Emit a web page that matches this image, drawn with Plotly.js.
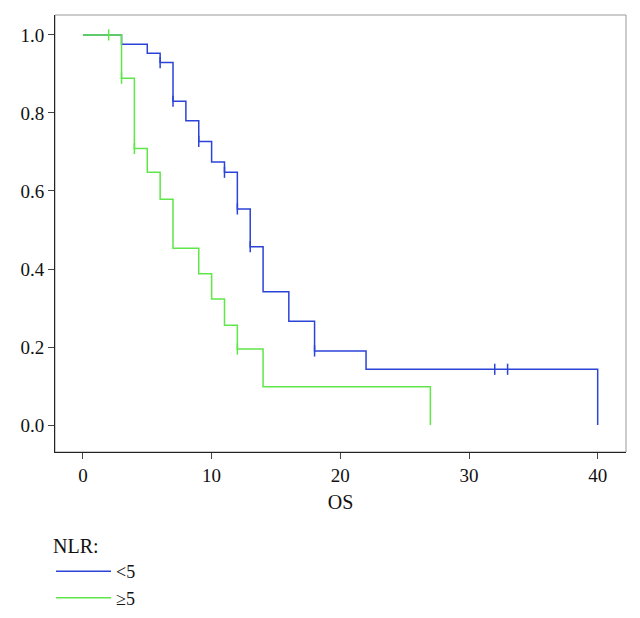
<!DOCTYPE html>
<html>
<head>
<meta charset="utf-8">
<script src="https://cdn.plot.ly/plotly-3.0.1.min.js"></script>
<style>html,body{margin:0;padding:0;background:#fff;}#chart{width:640px;height:618px;}</style>
</head>
<body>
<div id="chart"></div>
<script>
// Kaplan-Meier step data (time in OS units, survival probability)
const lowTime = [0, 3, 5, 6, 7, 8, 9, 10, 11, 12, 13, 14, 16, 18, 22, 40];
const lowSurv = [1.0, 0.976, 0.953, 0.929, 0.83, 0.78, 0.727, 0.674, 0.648, 0.554, 0.457, 0.342, 0.266, 0.19, 0.143, 0.0];
const lowCensorTime = [6, 7, 9, 11, 12, 13, 18, 32, 33];
const lowCensorSurv = [0.929, 0.83, 0.727, 0.648, 0.554, 0.457, 0.19, 0.143, 0.143];

const highTime = [0, 3, 4, 5, 6, 7, 9, 10, 11, 12, 14, 27];
const highSurv = [1.0, 0.889, 0.709, 0.648, 0.579, 0.453, 0.388, 0.323, 0.256, 0.195, 0.098, 0.0];
const highCensorTime = [2, 3, 4, 12];
const highCensorSurv = [1.0, 0.889, 0.709, 0.195];

const groupNames = ["<5", "\u22655"];
const xTicks = [0, 10, 20, 30, 40];
const yTicks = [0, 0.2, 0.4, 0.6, 0.8, 1.0];

const blue = "#2c43d8";
const green = "#5fe648";
const serif = "Liberation Serif, Times New Roman, serif";

const traces = [
  {x: lowTime, y: lowSurv, mode: "lines", line: {shape: "hv", color: blue, width: 1.5}, name: groupNames[0]},
  {x: highTime, y: highSurv, mode: "lines", line: {shape: "hv", color: green, width: 1.5}, name: groupNames[1]},
  {x: lowCensorTime, y: lowCensorSurv, mode: "markers", showlegend: false, hoverinfo: "skip",
   marker: {symbol: "line-ns", size: 8, line: {color: blue, width: 1.5}}},
  {x: highCensorTime, y: highCensorSurv, mode: "markers", showlegend: false, hoverinfo: "skip",
   marker: {symbol: "line-ns", size: 8, line: {color: green, width: 1.5}}}
];

const layout = {
  width: 640, height: 618,
  margin: {l: 55, r: 14, t: 15, b: 166, autoexpand: false},
  paper_bgcolor: "#fff", plot_bgcolor: "#fff",
  font: {family: serif, size: 19, color: "#111"},
  showlegend: true,
  legend: {
    x: -0.007, y: -0.172, xanchor: "left", yanchor: "top",
    orientation: "v",
    title: {text: "NLR:", font: {family: serif, size: 20}},
    font: {family: serif, size: 18},
    tracegroupgap: 0, itemwidth: 55,
    bgcolor: "rgba(0,0,0,0)"
  },
  xaxis: {
    range: [-2.17, 42.2], tickvals: xTicks, ticks: "outside", ticklen: 6,
    showgrid: false, zeroline: false, showline: true, linecolor: "#222", linewidth: 1,
    title: {text: "OS", font: {family: serif, size: 20}, standoff: 10},
    tickfont: {family: serif, size: 19}
  },
  yaxis: {
    range: [-0.069, 1.051], tickvals: yTicks, ticktext: yTicks.map(v => v.toFixed(1)),
    ticks: "outside", ticklen: 6,
    showgrid: false, zeroline: false, showline: true, linecolor: "#222", linewidth: 1,
    tickfont: {family: serif, size: 19}
  },
  shapes: [
    {type: "rect", xref: "paper", yref: "paper", x0: 0, x1: 1, y0: 0, y1: 1,
     line: {color: "#999", width: 1}, layer: "below"}
  ]
};

Plotly.newPlot("chart", traces, layout, {displayModeBar: false, staticPlot: true});
</script>
</body>
</html>
